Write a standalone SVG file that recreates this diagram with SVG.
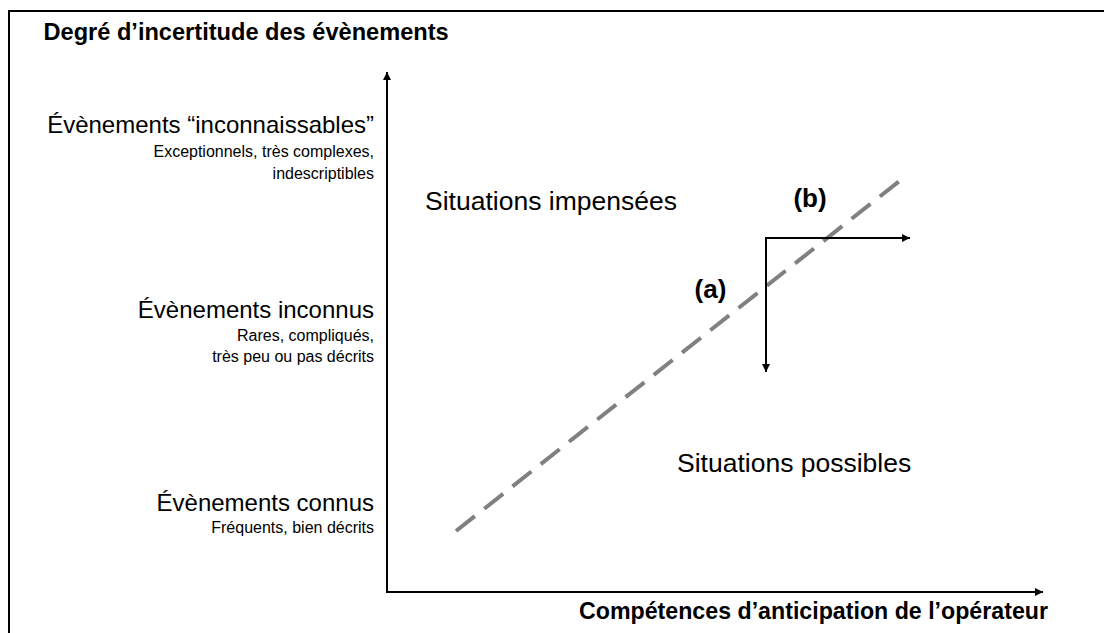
<svg xmlns="http://www.w3.org/2000/svg" width="1104" height="633" viewBox="0 0 1104 633">
<defs>
<style>
text{font-family:"Liberation Sans",Arial,sans-serif;fill:#000}
.ax{font-weight:bold;font-size:23px}
.lv{font-size:24px;text-anchor:end}
.sub{font-size:16px;text-anchor:end}
.sit{font-size:26.5px}
.lab{font-weight:bold;font-size:26px;text-anchor:middle}
.line{stroke:#000;stroke-width:2;fill:none}
</style>
<marker id="ah" viewBox="0 0 10 10" refX="10" refY="5" markerWidth="10" markerHeight="8" markerUnits="userSpaceOnUse" orient="auto">
<path d="M0,0 L10,5 L0,10 Z" fill="#000"/>
</marker>
</defs>
<rect width="1104" height="633" fill="#fff"/>
<rect id="frame" x="9" y="11" width="1200" height="700" fill="none" stroke="#000" stroke-width="2"/>
<g id="connectors">
<line class="line" x1="387" y1="592" x2="387" y2="72" marker-end="url(#ah)"/>
<line class="line" x1="386" y1="592" x2="1043" y2="592" marker-end="url(#ah)"/>
<line id="frontier" x1="456" y1="531" x2="902" y2="179" stroke="#808080" stroke-width="4" stroke-dasharray="24 12"/>
<polyline class="line" points="766,372 766,238 910,238" marker-end="url(#ah)"/>
<line class="line" x1="766" y1="238" x2="766" y2="372" marker-end="url(#ah)"/>
</g>
<g id="y-title"><text class="ax" x="43.5" y="40" style="font-size:23.6px">Degré d’incertitude des évènements</text></g>
<g id="x-title"><text class="ax" x="1048" y="619" text-anchor="end" style="font-size:23.2px">Compétences d’anticipation de l’opérateur</text></g>
<g id="level-unknowable">
<text class="lv" x="374" y="133">Évènements “inconnaissables”</text>
<text class="sub" x="374" y="157">Exceptionnels, très complexes,</text>
<text class="sub" x="374" y="179">indescriptibles</text>
</g>
<g id="level-unknown">
<text class="lv" x="374" y="318">Évènements inconnus</text>
<text class="sub" x="374" y="341">Rares, compliqués,</text>
<text class="sub" x="374" y="362">très peu ou pas décrits</text>
</g>
<g id="level-known">
<text class="lv" x="374" y="511">Évènements connus</text>
<text class="sub" x="374" y="533">Fréquents, bien décrits</text>
</g>
<g id="zone-unthought"><text class="sit" x="425" y="210">Situations impensées</text></g>
<g id="zone-possible"><text class="sit" x="677" y="472">Situations possibles</text></g>
<g id="label-a"><text class="lab" x="710.5" y="298">(a)</text></g>
<g id="label-b"><text class="lab" x="810" y="207">(b)</text></g>
</svg>
